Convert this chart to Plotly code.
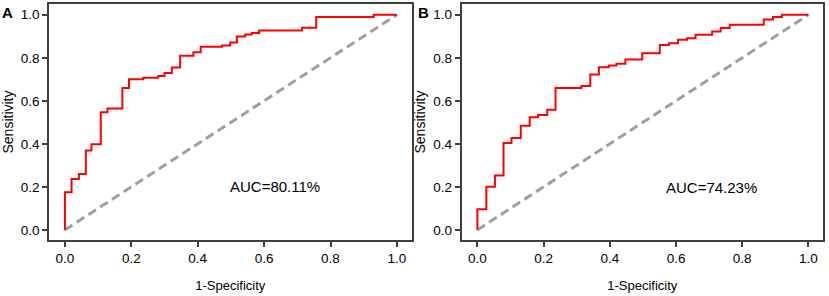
import plotly.graph_objects as go

# Panel A ROC curve (1-specificity, sensitivity)
fpr_a = [0, 0, 0.02, 0.042, 0.063, 0.08, 0.108, 0.128, 0.173, 0.193, 0.236, 0.281, 0.30,
         0.322, 0.347, 0.387, 0.409, 0.473, 0.498, 0.518, 0.543, 0.563, 0.585, 0.714,
         0.757, 0.93, 1.0]
tpr_a = [0, 0.175, 0.237, 0.26, 0.369, 0.398, 0.547, 0.564, 0.659, 0.70, 0.707, 0.715, 0.729,
         0.755, 0.809, 0.826, 0.851, 0.857, 0.871, 0.899, 0.908, 0.915, 0.927, 0.94,
         0.99, 1.0, 1.0]

# Panel B ROC curve
fpr_b = [0, 0, 0.027, 0.053, 0.079, 0.103, 0.131, 0.158, 0.183, 0.211, 0.236, 0.314, 0.341,
         0.367, 0.397, 0.42, 0.447, 0.498, 0.551, 0.579, 0.606, 0.633, 0.659, 0.709, 0.735,
         0.762, 0.865, 0.893, 0.92, 1.0]
tpr_b = [0, 0.096, 0.20, 0.253, 0.404, 0.427, 0.484, 0.523, 0.534, 0.559, 0.66, 0.669, 0.722,
         0.756, 0.764, 0.772, 0.792, 0.821, 0.86, 0.868, 0.884, 0.891, 0.907, 0.922, 0.938,
         0.953, 0.978, 0.989, 1.0, 1.0]

diag = [0, 1]
auc_labels = ["AUC=80.11%", "AUC=74.23%"]
auc_pos = [(0.633, 0.20), (0.707, 0.197)]
panel_labels = ["A", "B"]
tick_vals = [0, 0.2, 0.4, 0.6, 0.8, 1.0]
tick_text = ["0.0", "0.2", "0.4", "0.6", "0.8", "1.0"]

SANS = "Liberation Sans, Arial, sans-serif"
AX = "#404040"

W, H = 829, 296
fig = go.Figure()

for i, (fx, ty) in enumerate([(fpr_a, tpr_a), (fpr_b, tpr_b)]):
    xa = "x" if i == 0 else "x2"
    ya = "y" if i == 0 else "y2"
    fig.add_trace(go.Scatter(x=diag, y=diag, mode="lines", xaxis=xa, yaxis=ya,
                             line=dict(color="#A0A0A0", width=3, dash="9px,5px"),
                             showlegend=False, hoverinfo="skip"))
    fig.add_trace(go.Scatter(x=fx, y=ty, mode="lines", xaxis=xa, yaxis=ya,
                             line=dict(color="#FF0000", width=2, shape="hv"),
                             showlegend=False))
    fig.add_annotation(x=auc_pos[i][0], y=auc_pos[i][1], xref=xa, yref=ya,
                       text=auc_labels[i], showarrow=False,
                       font=dict(family=SANS, size=15, color="black"))

xdom = [(49 / W, 411.5 / W), (461.5 / W, 823 / W)]
ydom = (1 - 240 / H, 1 - 4 / H)

common_x = dict(range=[-0.048, 1.044], tickvals=tick_vals, ticktext=tick_text,
                showline=True, linecolor=AX, linewidth=1.5, mirror=True,
                ticks="outside", ticklen=5, tickwidth=1.5, tickcolor=AX,
                showgrid=False, zeroline=False, automargin=False,
                tickfont=dict(family=SANS, size=13.5, color="black"),
                title=dict(text="1-Specificity", standoff=16,
                           font=dict(family=SANS, size=13, color="black")))


def y_axis(standoff):
    return dict(range=[-0.047, 1.05], tickvals=tick_vals, ticktext=tick_text,
                showline=True, linecolor=AX, linewidth=1.5, mirror=True,
                ticks="outside", ticklen=5, tickwidth=1.5, tickcolor=AX,
                showgrid=False, zeroline=False, automargin=False,
                tickfont=dict(family=SANS, size=13.5, color="black"),
                title=dict(text="Sensitivity", standoff=standoff,
                           font=dict(family=SANS, size=14, color="black")))


fig.update_layout(
    width=W, height=H,
    margin=dict(l=0, r=0, t=0, b=0),
    paper_bgcolor="white", plot_bgcolor="white",
    xaxis=dict(domain=list(xdom[0]), anchor="y", **common_x),
    yaxis=dict(domain=list(ydom), anchor="x", **y_axis(15)),
    xaxis2=dict(domain=list(xdom[1]), anchor="y2", **common_x),
    yaxis2=dict(domain=list(ydom), anchor="x2", **y_axis(4)),
)

for lbl, px in zip(panel_labels, [0, 416]):
    fig.add_annotation(x=px / W, y=1 - 2 / H, xref="paper", yref="paper",
                       xanchor="left", yanchor="top", text="<b>%s</b>" % lbl,
                       showarrow=False, font=dict(family=SANS, size=15, color="black"))

fig.write_html("out.html", config={"displayModeBar": False},
               post_script="document.body.style.margin='0px';document.body.style.padding='0px';")
